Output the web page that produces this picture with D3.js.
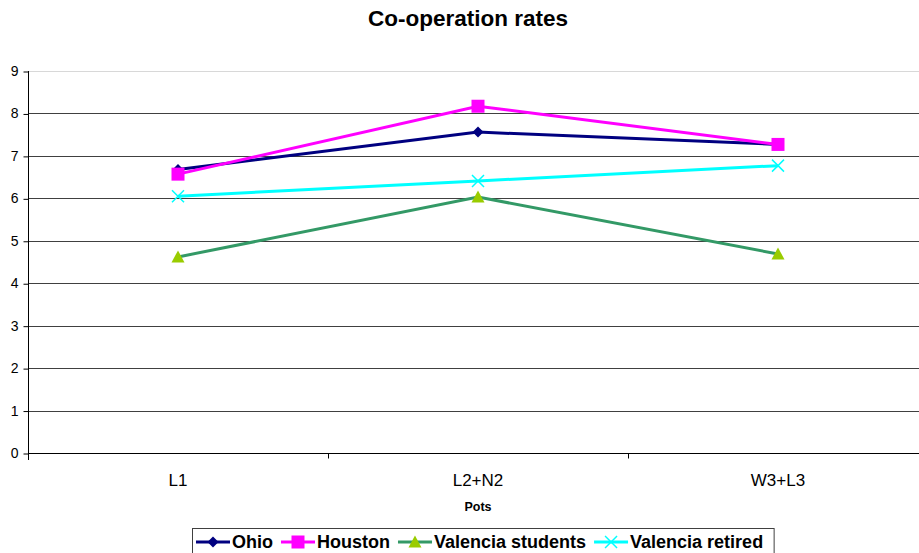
<!DOCTYPE html>
<html>
<head>
<meta charset="utf-8">
<script src="https://cdn.jsdelivr.net/npm/d3@7"></script>
<style>
  html, body { margin: 0; padding: 0; background: #fff; }
  svg { display: block; font-family: "Liberation Sans", Arial, sans-serif; }
</style>
</head>
<body>
<svg id="chart" width="919" height="553"></svg>
<script>
// Categories along the x axis
const pots = ["L1", "L2+N2", "W3+L3"];

// Co-operation rate per group, one value per pot
const ohio             = [6.68, 7.56, 7.27];
const houston          = [6.57, 8.17, 7.27];
const valenciaStudents = [4.62, 6.03, 4.69];
const valenciaRetired  = [6.05, 6.41, 6.77];

// Y axis ticks
const yTicks = [0, 1, 2, 3, 4, 5, 6, 7, 8, 9];

const series = [
  { name: "Ohio",              values: ohio,             line: "#000080", fill: "#000080", marker: "diamond" },
  { name: "Houston",           values: houston,          line: "#FF00FF", fill: "#FF00FF", marker: "square" },
  { name: "Valencia students", values: valenciaStudents, line: "#339966", fill: "#99CC00", marker: "triangle" },
  { name: "Valencia retired",  values: valenciaRetired,  line: "#00FFFF", fill: "#00FFFF", marker: "cross" }
];

const svg = d3.select("#chart");
const plot = { left: 28, right: 928, top: 71, bottom: 453 };

const x = d3.scaleBand().domain(pots).range([plot.left, plot.right]);
const y = d3.scaleLinear().domain([0, 9]).range([plot.bottom, plot.top]);

// Title
svg.append("text")
  .attr("x", 468).attr("y", 26)
  .attr("text-anchor", "middle")
  .attr("font-size", 22.5).attr("font-weight", "bold")
  .text("Co-operation rates");

// Horizontal gridlines
svg.append("g")
  .selectAll("line")
  .data(yTicks.filter(d => d > 0))
  .join("line")
  .attr("x1", plot.left).attr("x2", plot.right)
  .attr("y1", d => Math.round(y(d)) + 0.5).attr("y2", d => Math.round(y(d)) + 0.5)
  .attr("stroke", d => d === 9 ? "#d8d8d8" : "#404040")
  .attr("stroke-width", 1);

// Y axis
const yAxis = svg.append("g")
  .attr("transform", `translate(${plot.left + 0.5},0)`)
  .call(d3.axisLeft(y).tickValues(yTicks).tickSize(5).tickPadding(5).tickFormat(d3.format("d")));
yAxis.attr("font-size", null).attr("font-family", null);
yAxis.select(".domain").attr("stroke", "#000").attr("d", `M0,${plot.top}V${plot.bottom + 7}`);
yAxis.selectAll(".tick line").attr("stroke", "#000").attr("transform", "translate(0,0.5)");
yAxis.selectAll(".tick text").style("font-size", "14px").attr("fill", "#000");

// X axis
const xAxis = svg.append("g")
  .attr("transform", `translate(0,${Math.round(plot.bottom) + 0.5})`);
xAxis.append("line")
  .attr("x1", plot.left).attr("x2", plot.right)
  .attr("stroke", "#000");
xAxis.selectAll(".sep")
  .data(pots.slice(1))
  .join("line")
  .attr("class", "sep")
  .attr("x1", d => Math.round(x(d)) + 0.5).attr("x2", d => Math.round(x(d)) + 0.5)
  .attr("y1", 0).attr("y2", 5)
  .attr("stroke", "#000");
xAxis.selectAll(".lbl")
  .data(pots)
  .join("text")
  .attr("class", "lbl")
  .attr("x", d => x(d) + x.bandwidth() / 2)
  .attr("y", 32)
  .attr("text-anchor", "middle")
  .attr("font-size", 17)
  .text(d => d);

svg.append("text")
  .attr("x", x("L2+N2") + x.bandwidth() / 2).attr("y", 511)
  .attr("text-anchor", "middle")
  .attr("font-size", 12.5).attr("font-weight", "bold")
  .text("Pots");

// Marker shapes
function drawMarker(g, type, fill) {
  if (type === "diamond") {
    g.append("path").attr("d", "M0,-5.5L5.5,0L0,5.5L-5.5,0Z").attr("fill", fill);
  } else if (type === "square") {
    g.append("rect").attr("x", -6.5).attr("y", -6.5).attr("width", 13).attr("height", 13).attr("fill", fill);
  } else if (type === "triangle") {
    g.append("path").attr("d", "M0,-6.5L6.5,5.5L-6.5,5.5Z").attr("fill", fill);
  } else if (type === "cross") {
    g.append("path").attr("d", "M-6,-6L6,6M-6,6L6,-6")
      .attr("stroke", fill).attr("stroke-width", 1.5).attr("fill", "none");
  }
}

const line = d3.line()
  .x((d, i) => x(pots[i]) + x.bandwidth() / 2)
  .y(d => y(d));

// Series lines and markers
series.forEach(s => {
  const g = svg.append("g");
  g.append("path")
    .datum(s.values)
    .attr("d", line)
    .attr("fill", "none")
    .attr("stroke", s.line)
    .attr("stroke-width", 3);
  s.values.forEach((v, i) => {
    const m = g.append("g")
      .attr("transform", `translate(${x(pots[i]) + x.bandwidth() / 2},${y(v)})`);
    drawMarker(m, s.marker, s.fill);
  });
});

// Legend
const legend = svg.append("g");
const legendBox = legend.append("rect")
  .attr("x", 192.5).attr("y", 528.5)
  .attr("height", 30)
  .attr("fill", "#fff").attr("stroke", "#404040").attr("stroke-width", 1);
let lx = 196;
const ly = 542;
series.forEach(s => {
  const item = legend.append("g");
  item.append("line")
    .attr("x1", lx).attr("x2", lx + 34)
    .attr("y1", ly).attr("y2", ly)
    .attr("stroke", s.line).attr("stroke-width", 3);
  const m = item.append("g").attr("transform", `translate(${lx + 17},${ly})`);
  drawMarker(m, s.marker, s.fill);
  const t = item.append("text")
    .attr("x", lx + 36).attr("y", ly + 6)
    .attr("font-size", 18).attr("font-weight", "bold")
    .text(s.name);
  lx += 36 + t.node().getComputedTextLength() + 8;
});
legendBox.attr("width", lx - 192.5 + 3);
</script>
</body>
</html>
